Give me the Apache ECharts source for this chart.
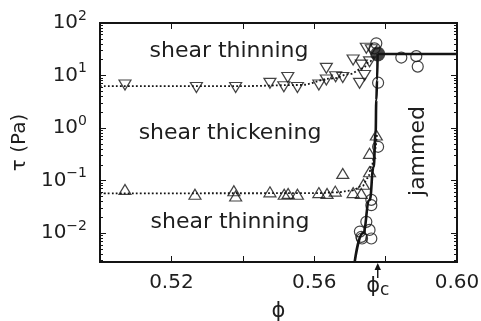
<!DOCTYPE html>
<html>
<head>
<meta charset="utf-8">
<script src="https://cdn.jsdelivr.net/npm/echarts@6/dist/echarts.min.js"></script>
<style>html,body{margin:0;padding:0;background:#fff}#c{width:481px;height:321px}</style>
</head>
<body>
<div id="c"></div>
<script>
// ---- data (phi, tau in Pa) ----
const xTickLabels = [0.52, 0.56, 0.60];
const yTickExponents = [-2, -1, 0, 1, 2];

const downPhi = [0.507, 0.527, 0.538, 0.5476, 0.5515, 0.5526, 0.5553, 0.5613, 0.5634, 0.5634, 0.566, 0.568, 0.5709, 0.5732, 0.5727, 0.5741, 0.5746, 0.5755, 0.576];
const downTau = [6.6, 5.9, 5.9, 7.1, 6.1, 9.2, 5.9, 6.6, 13.7, 8.2, 9.5, 9.2, 19.7, 15.8, 7.1, 10, 33, 18.2, 31];

const upPhi = [0.507, 0.5266, 0.5375, 0.538, 0.5476, 0.5516, 0.5527, 0.5553, 0.5613, 0.5636, 0.5659, 0.568, 0.5709, 0.5732, 0.5738, 0.5755, 0.5755, 0.5774];
const upTau = [0.068, 0.055, 0.064, 0.051, 0.061, 0.055, 0.057, 0.055, 0.059, 0.057, 0.063, 0.137, 0.059, 0.057, 0.085, 0.147, 0.33, 0.74];

const circPhi = [0.5774, 0.5769, 0.5844, 0.5886, 0.589, 0.5779, 0.5779, 0.576, 0.576, 0.5746, 0.5755, 0.5732, 0.576, 0.5728, 0.5734];
const circTau = [41, 33, 22, 23.4, 14.8, 7.3, 0.44, 0.043, 0.034, 0.0164, 0.0115, 0.0085, 0.0079, 0.0107, 0.0079];

const fitUpPhi = [0.500, 0.540, 0.556, 0.5652, 0.570, 0.5736, 0.5755, 0.5769];
const fitUpTau = [6.3, 6.3, 6.6, 8.8, 10.7, 13.7, 18.3, 24.5];

const fitLowPhi = [0.500, 0.560, 0.566, 0.5705, 0.5735, 0.5750, 0.5762, 0.5770, 0.5776];
const fitLowTau = [0.057, 0.0575, 0.0596, 0.0646, 0.079, 0.112, 0.2, 0.38, 0.79];

const jamPhi = [0.57133, 0.57365, 0.57552, 0.57664, 0.5772, 0.5774, 0.57762, 0.57776];
const jamTau = [0.0028, 0.010, 0.0426, 0.181, 0.80, 3.4, 8.2, 25.7];

const plateauPhi = [0.57776, 0.60];
const plateauTau = [25.7, 25.7];

const PHI_C = 0.5778;
const TAU_C = 25.7;

// ---- helpers ----
const FONT = '"DejaVu Sans", sans-serif';
const INK = '#141414';
const TXT = '#1e1e1e';
const pts = (xs, ys) => xs.map((x, i) => [x, Math.log10(ys[i])]);
const Y_MIN = -2.55, Y_MAX = 2;
const minorVals = [];
for (let n = -3; n <= 1; n++) for (let k = 2; k <= 9; k++) {
  const v = n + Math.log10(k);
  if (v > Y_MIN && v < Y_MAX) minorVals.push(v);
}
const supText = e => (e < 0 ? '\u2212' + (-e) : String(e));

const baseY = (pos, ticks, len, showLabel) => ({
  type: 'value', position: pos, min: Y_MIN, max: Y_MAX,
  axisLine: { show: true, onZero: false, lineStyle: { color: INK, width: 2 } },
  axisTick: { show: true, inside: true, length: len, customValues: ticks, lineStyle: { color: INK, width: 1 } },
  axisLabel: showLabel ? {
    show: true, margin: 13, customValues: yTickExponents,
    formatter: v => '{b|10}{s|' + supText(Math.round(v)) + '}',
    rich: {
      b: { fontSize: 20, lineHeight: 28, fontFamily: FONT, color: TXT },
      s: { fontSize: 14, lineHeight: 14, verticalAlign: 'top', fontFamily: FONT, color: TXT }
    }
  } : { show: false },
  splitLine: { show: false }
});

const chart = echarts.init(document.getElementById('c'));
const option = {
  animation: false,
  backgroundColor: '#fff',
  grid: { left: 100, right: 24, top: 23, bottom: 59, containLabel: false, outerBoundsMode: 'none' },
  xAxis: [
    {
      type: 'value', position: 'bottom', min: 0.50, max: 0.60, interval: 0.02,
      name: '\u03D5', nameLocation: 'middle', nameGap: 39,
      nameTextStyle: { fontSize: 21, fontFamily: FONT, color: TXT },
      axisLine: { onZero: false, lineStyle: { color: INK, width: 2 } },
      axisTick: { inside: true, length: 6, lineStyle: { color: INK, width: 1 } },
      axisLabel: { customValues: xTickLabels, formatter: v => v.toFixed(2), margin: 11, fontSize: 20, fontFamily: FONT, color: TXT },
      splitLine: { show: false }
    },
    {
      type: 'value', position: 'top', min: 0.50, max: 0.60, interval: 0.02,
      axisLine: { onZero: false, lineStyle: { color: INK, width: 2 } },
      axisTick: { inside: true, length: 6, lineStyle: { color: INK, width: 1 } },
      axisLabel: { show: false }, splitLine: { show: false }
    }
  ],
  yAxis: [
    Object.assign(baseY('left', yTickExponents, 6, true), {
      name: '\u03C4 (Pa)', nameLocation: 'middle', nameGap: 60, nameRotate: 90,
      nameTextStyle: { fontSize: 20, fontFamily: FONT, color: TXT }
    }),
    baseY('left', minorVals, 3, false),
    baseY('right', yTickExponents, 6, false),
    baseY('right', minorVals, 3, false)
  ],
  series: [
    { type: 'line', data: pts(fitUpPhi, fitUpTau), smooth: 0.4, smoothMonotone: 'x', symbol: 'none',
      lineStyle: { color: INK, width: 1.8, type: [1.8, 2.2] }, z: 2 },
    { type: 'line', data: pts(fitLowPhi, fitLowTau), smooth: 0.4, smoothMonotone: 'x', symbol: 'none',
      lineStyle: { color: INK, width: 1.8, type: [1.8, 2.2] }, z: 2 },
    { type: 'line', data: pts(jamPhi, jamTau), smooth: 0.5, smoothMonotone: 'x', symbol: 'none',
      lineStyle: { color: INK, width: 2.6 }, z: 3 },
    { type: 'line', data: pts(plateauPhi, plateauTau), symbol: 'none',
      lineStyle: { color: INK, width: 2.6 }, z: 3 },
    { type: 'scatter', data: pts(downPhi, downTau), symbol: 'triangle', symbolRotate: 180, symbolSize: [12, 10],
      itemStyle: { color: 'rgba(0,0,0,0)', borderColor: INK, borderWidth: 1.2 }, z: 4 },
    { type: 'scatter', data: pts(upPhi, upTau), symbol: 'triangle', symbolSize: [12, 10],
      itemStyle: { color: 'rgba(0,0,0,0)', borderColor: INK, borderWidth: 1.2 }, z: 4 },
    { type: 'scatter', data: pts(circPhi, circTau), symbol: 'circle', symbolSize: 11,
      itemStyle: { color: 'rgba(0,0,0,0)', borderColor: INK, borderWidth: 1.2 }, z: 4 },
    { type: 'scatter', data: [[PHI_C, Math.log10(TAU_C)]], symbol: 'circle', symbolSize: 15,
      itemStyle: { color: INK }, z: 5 }
  ]
};
chart.setOption(option);

// annotations
const px = chart.convertToPixel({ xAxisIndex: 0 }, PHI_C);
const txt = (t, x, y, size, rot) => ({
  type: 'text', x: x, y: y, rotation: rot || 0, z: 10,
  style: { text: t, fontSize: size, fontFamily: FONT, fill: TXT, align: 'center', verticalAlign: 'middle' }
});
chart.setOption({
  graphic: [
    txt('shear thinning', 229, 51, 22),
    txt('shear thickening', 230, 133, 22),
    txt('shear thinning', 230, 222, 22),
    txt('jammed', 418, 151, 22, Math.PI / 2),
    { type: 'line', z: 10, shape: { x1: px, y1: 278, x2: px, y2: 268 }, style: { stroke: INK, lineWidth: 1.4 } },
    { type: 'polygon', z: 10, shape: { points: [[px, 263], [px - 3.2, 270], [px + 3.2, 270]] }, style: { fill: INK } },
    {
      type: 'text', x: px, y: 287, z: 10,
      style: {
        text: '{a|\u03D5}{b|c}', align: 'center', verticalAlign: 'middle',
        rich: {
          a: { fontSize: 21, lineHeight: 24, fontFamily: FONT, fill: TXT },
          b: { fontSize: 17, lineHeight: 17, verticalAlign: 'bottom', fontFamily: FONT, fill: TXT }
        }
      }
    }
  ]
});
</script>
</body>
</html>
